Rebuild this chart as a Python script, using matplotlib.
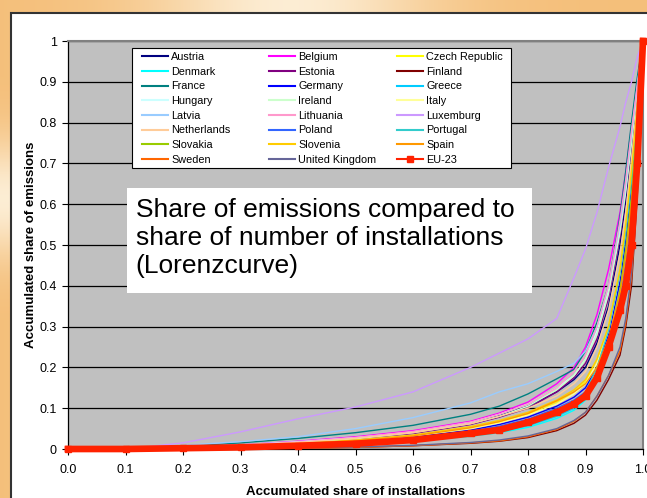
import numpy as np
import matplotlib
matplotlib.use('Agg')
import matplotlib.pyplot as plt
from matplotlib.lines import Line2D
from matplotlib.legend import Legend
from matplotlib.patches import Rectangle

plt.rcParams['font.family'] = ['Liberation Sans', 'DejaVu Sans']

# accumulated share of installations (x grid shared by all curves)
share_inst = [0.0, 0.1, 0.2, 0.3, 0.4, 0.5, 0.6, 0.7, 0.75, 0.8,
              0.85, 0.88, 0.9, 0.92, 0.94, 0.96, 0.97, 0.98, 0.99, 1.0]

# accumulated share of emissions per country
austria = [0, 0.001, 0.004, 0.009, 0.017, 0.027, 0.041, 0.063, 0.082, 0.105,
           0.14, 0.17, 0.20, 0.26, 0.35, 0.50, 0.61, 0.74, 0.87, 1.0]
belgium = [0, 0.001, 0.004, 0.010, 0.019, 0.030, 0.045, 0.068, 0.088, 0.115,
           0.16, 0.20, 0.25, 0.33, 0.44, 0.58, 0.68, 0.79, 0.90, 1.0]
czech = [0, 0.0, 0.002, 0.006, 0.012, 0.021, 0.033, 0.052, 0.066, 0.085,
         0.115, 0.14, 0.165, 0.22, 0.30, 0.44, 0.55, 0.68, 0.84, 1.0]
denmark = [0, 0, 0.001, 0.003, 0.006, 0.011, 0.019, 0.031, 0.040, 0.053,
           0.075, 0.095, 0.12, 0.17, 0.25, 0.37, 0.47, 0.60, 0.78, 1.0]
estonia = [0, 0.0, 0.003, 0.008, 0.015, 0.025, 0.038, 0.060, 0.078, 0.10,
           0.14, 0.175, 0.21, 0.27, 0.37, 0.52, 0.63, 0.75, 0.88, 1.0]
finland = [0, 0, 0, 0.001, 0.002, 0.004, 0.008, 0.014, 0.019, 0.028,
           0.045, 0.063, 0.083, 0.12, 0.17, 0.23, 0.30, 0.40, 0.62, 1.0]
france = [0, 0.001, 0.006, 0.015, 0.026, 0.040, 0.058, 0.085, 0.105, 0.135,
          0.172, 0.195, 0.24, 0.31, 0.40, 0.57, 0.68, 0.80, 0.91, 1.0]
germany = [0, 0.0, 0.002, 0.005, 0.010, 0.018, 0.029, 0.046, 0.060, 0.078,
           0.105, 0.127, 0.15, 0.20, 0.28, 0.41, 0.51, 0.64, 0.80, 1.0]
greece = [0, 0, 0.001, 0.003, 0.007, 0.012, 0.020, 0.033, 0.043, 0.057,
          0.08, 0.10, 0.125, 0.175, 0.25, 0.38, 0.48, 0.61, 0.79, 1.0]
hungary = [0, 0.001, 0.004, 0.010, 0.018, 0.028, 0.042, 0.065, 0.085, 0.11,
           0.15, 0.18, 0.22, 0.29, 0.39, 0.54, 0.64, 0.76, 0.88, 1.0]
ireland = [0, 0.001, 0.003, 0.008, 0.015, 0.025, 0.040, 0.062, 0.080, 0.105,
           0.145, 0.18, 0.22, 0.28, 0.38, 0.53, 0.63, 0.75, 0.88, 1.0]
italy = [0, 0.0, 0.002, 0.006, 0.012, 0.020, 0.032, 0.050, 0.064, 0.083,
         0.11, 0.135, 0.16, 0.21, 0.29, 0.43, 0.54, 0.67, 0.83, 1.0]
latvia = [0, 0.003, 0.009, 0.018, 0.030, 0.050, 0.077, 0.113, 0.14, 0.16,
          0.19, 0.21, 0.24, 0.30, 0.40, 0.55, 0.65, 0.77, 0.89, 1.0]
lithuania = [0, 0.001, 0.004, 0.009, 0.017, 0.028, 0.043, 0.066, 0.085, 0.11,
             0.15, 0.19, 0.23, 0.30, 0.40, 0.56, 0.66, 0.78, 0.89, 1.0]
luxemburg = [0, 0.0, 0.015, 0.042, 0.074, 0.103, 0.14, 0.20, 0.235, 0.27,
             0.32, 0.42, 0.49, 0.58, 0.69, 0.79, 0.85, 0.90, 0.96, 1.0]
netherlands = [0, 0.001, 0.004, 0.009, 0.016, 0.026, 0.040, 0.062, 0.080, 0.10,
               0.13, 0.16, 0.19, 0.25, 0.34, 0.48, 0.58, 0.71, 0.85, 1.0]
poland = [0, 0.0, 0.002, 0.005, 0.010, 0.017, 0.027, 0.043, 0.056, 0.073,
          0.10, 0.12, 0.14, 0.18, 0.25, 0.37, 0.46, 0.59, 0.77, 1.0]
portugal = [0, 0, 0.001, 0.004, 0.008, 0.014, 0.023, 0.037, 0.048, 0.063,
            0.088, 0.11, 0.14, 0.20, 0.29, 0.43, 0.53, 0.66, 0.82, 1.0]
slovakia = [0, 0, 0.001, 0.004, 0.008, 0.013, 0.021, 0.035, 0.046, 0.060,
            0.083, 0.105, 0.13, 0.18, 0.26, 0.39, 0.49, 0.62, 0.80, 1.0]
slovenia = [0, 0.0, 0.002, 0.006, 0.013, 0.022, 0.034, 0.055, 0.070, 0.090,
            0.12, 0.145, 0.17, 0.22, 0.30, 0.44, 0.55, 0.68, 0.84, 1.0]
spain = [0, 0.0, 0.002, 0.006, 0.012, 0.020, 0.032, 0.052, 0.067, 0.087,
         0.118, 0.14, 0.16, 0.20, 0.27, 0.38, 0.47, 0.60, 0.78, 1.0]
sweden = [0, 0, 0, 0.001, 0.002, 0.004, 0.008, 0.015, 0.020, 0.030,
          0.048, 0.068, 0.09, 0.13, 0.18, 0.24, 0.31, 0.42, 0.64, 1.0]
uk = [0, 0, 0, 0.001, 0.003, 0.005, 0.009, 0.016, 0.022, 0.032,
      0.050, 0.070, 0.09, 0.13, 0.18, 0.25, 0.32, 0.43, 0.66, 1.0]
eu23 = [0, 0.0, 0.002, 0.004, 0.008, 0.013, 0.022, 0.038, 0.047, 0.065,
        0.09, 0.11, 0.13, 0.175, 0.25, 0.34, 0.40, 0.50, 0.70, 1.0]

countries = ['Austria', 'Belgium', 'Czech Republic', 'Denmark', 'Estonia', 'Finland',
             'France', 'Germany', 'Greece', 'Hungary', 'Ireland', 'Italy',
             'Latvia', 'Lithuania', 'Luxemburg', 'Netherlands', 'Poland', 'Portugal',
             'Slovakia', 'Slovenia', 'Spain', 'Sweden', 'United Kingdom']
series = [austria, belgium, czech, denmark, estonia, finland,
          france, germany, greece, hungary, ireland, italy,
          latvia, lithuania, luxemburg, netherlands, poland, portugal,
          slovakia, slovenia, spain, sweden, uk]
colors = ['#000080', '#ff00ff', '#ffff00', '#00ffff', '#800080', '#800000',
          '#008080', '#0000ff', '#00ccff', '#ccffff', '#ccffcc', '#ffff99',
          '#99ccff', '#ff99cc', '#cc99ff', '#ffcc99', '#3366ff', '#33cccc',
          '#99cc00', '#ffcc00', '#ff9900', '#ff6600', '#666699']
eu_color = '#ff2200'

fig = plt.figure(figsize=(6.47, 4.98), dpi=100)

# slide background (orange gradient) behind the white chart area
bg = fig.add_axes([0, 0, 1, 1], zorder=-10)
bg.axis('off')
gx = np.linspace(0, 1, 300)
gy = np.linspace(0, 1, 300)
GX, GY = np.meshgrid(gx, gy)
w = np.maximum(np.exp(-((GX - 0.45) / 0.22) ** 2), np.exp(-((GY - 0.40) / 0.12) ** 2))
c1 = np.array([0.96, 0.75, 0.48])
c2 = np.array([0.99, 0.93, 0.83])
img = c1[None, None, :] * (1 - w[..., None]) + c2[None, None, :] * w[..., None]
bg.imshow(img, extent=[0, 1, 0, 1], aspect='auto')
bg.set_xlim(0, 1)
bg.set_ylim(0, 1)

fig.patches.append(Rectangle((11 / 647, -0.05), 1.0, (498 - 13) / 498 + 0.05,
                             transform=fig.transFigure, facecolor='white',
                             edgecolor='#333333', linewidth=1.5, zorder=-5))

ax = fig.add_axes([68 / 647, 49 / 498, 575 / 647, 408 / 498])
ax.set_facecolor('#c0c0c0')

handles = []
for name, vals, col in zip(countries, series, colors):
    ax.plot(share_inst, vals, color=col, lw=1.0, label=name, zorder=3)
    handles.append(Line2D([], [], color=col, lw=1.5, label=name))

ax.plot(share_inst, eu23, color=eu_color, lw=4.8, marker='s', ms=4.5,
        zorder=4, clip_on=False, solid_joinstyle='miter')
handles.append(Line2D([], [], color=eu_color, lw=1.5, marker='s', ms=4, label='EU-23'))

ax.set_xlim(0, 1)
ax.set_ylim(0, 1)
ax.set_xticks(np.arange(0, 1.01, 0.1))
ax.set_xticklabels([f'{v:.1f}' for v in np.arange(0, 1.01, 0.1)])
ax.set_yticks(np.arange(0, 1.01, 0.1))
ax.set_yticklabels(['0'] + [f'{v:.1f}' for v in np.arange(0.1, 0.95, 0.1)] + ['1'])
ax.tick_params(direction='out', length=4, width=0.8, labelsize=9)
ax.tick_params(axis='x', pad=7)
ax.tick_params(axis='y', pad=4)
ax.yaxis.grid(True, color='black', lw=0.9)
ax.set_axisbelow(True)
for s in ['top', 'right']:
    ax.spines[s].set_color('#808080')
    ax.spines[s].set_linewidth(1.5)
for s in ['left', 'bottom']:
    ax.spines[s].set_color('black')
    ax.spines[s].set_linewidth(0.9)

ax.set_xlabel('Accumulated share of installations', fontsize=9.5, fontweight='bold', labelpad=7)
ax.set_ylabel('Accumulated share of emissions', fontsize=9.5, fontweight='bold', labelpad=2)

# legend: white framed box with three columns filled row by row
ax.add_patch(Rectangle((0.1113, 0.6887), 0.659, 0.294, transform=ax.transAxes,
                       facecolor='white', edgecolor='black', lw=0.8, zorder=9))
col_x = [0.1287, 0.3496, 0.5722]
for c in range(3):
    col_handles = handles[c::3]
    leg = Legend(ax, col_handles, [h.get_label() for h in col_handles],
                 loc='upper left', bbox_to_anchor=(col_x[c], 0.973),
                 fontsize=7.8, frameon=False, handlelength=2.4,
                 handletextpad=0.3, labelspacing=0.43,
                 borderpad=0, borderaxespad=0)
    leg.set_zorder(10)
    ax.add_artist(leg)

# annotation box
ax.add_patch(Rectangle((0.1026, 0.382), 0.7044, 0.258, transform=ax.transAxes,
                       facecolor='white', edgecolor='none', zorder=8))
ax.text(0.118, 0.615, 'Share of emissions compared to\nshare of number of installations\n(Lorenzcurve)',
        transform=ax.transAxes, fontsize=19, va='top', ha='left', zorder=9)

fig.savefig('out.png', dpi=100)
